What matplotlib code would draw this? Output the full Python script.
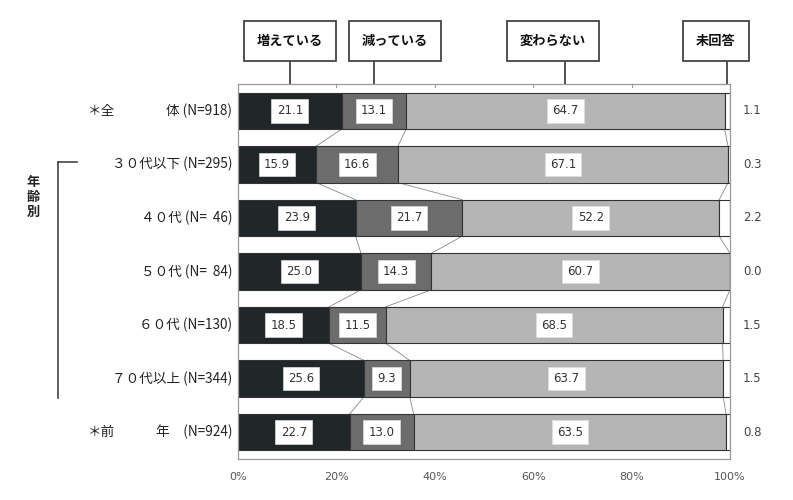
import matplotlib
matplotlib.use("Agg")
import matplotlib.pyplot as plt
from matplotlib.lines import Line2D
import numpy as np

plt.rcParams['font.family'] = ['Noto Sans CJK JP', 'DejaVu Sans']

left_parts = ["＊全", None, None, None, None, None, "＊前"]
right_parts = ["体 (N=918)", "３０代以下 (N=295)", "４０代 (N=  46)", "５０代 (N=  84)",
               "６０代 (N=130)", "７０代以上 (N=344)", "年　(N=924)"]
series_names = ["増えている", "減っている", "変わらない", "未回答"]
increasing = [21.1, 15.9, 23.9, 25.0, 18.5, 25.6, 22.7]
decreasing = [13.1, 16.6, 21.7, 14.3, 11.5, 9.3, 13.0]
unchanged = [64.7, 67.1, 52.2, 60.7, 68.5, 63.7, 63.5]
no_answer = [1.1, 0.3, 2.2, 0.0, 1.5, 1.5, 0.8]
xtick_labels = ["0%", "20%", "40%", "60%", "80%", "100%"]

colors = ["#212629", "#6c6c6c", "#b5b5b5", "#ffffff"]
legend_box_x = [290, 395, 553, 716]  # figure pixel centers of the legend boxes

W, H = 793, 500
fig = plt.figure(figsize=(W / 100, H / 100), dpi=100)
ax = fig.add_axes([238 / W, 1 - 459 / H, (730 - 238) / W, (459 - 84) / H])

data = np.array([increasing, decreasing, unchanged, no_answer])
n = data.shape[1]
y = np.arange(n)
bh = 0.68
lefts = np.zeros(n)
for i in range(4):
    ax.barh(y, data[i], left=lefts, height=bh, color=colors[i],
            edgecolor="#333333", linewidth=0.8, zorder=2)
    if i < 3:
        for j in range(n):
            ax.text(lefts[j] + data[i][j] / 2, y[j], f"{data[i][j]:.1f}",
                    ha="center", va="center", fontsize=8.5, color="#333333",
                    family=["DejaVu Sans"], zorder=4,
                    bbox=dict(boxstyle="square,pad=0.45", fc="white", ec="#dddddd", lw=0.5))
    lefts = lefts + data[i]

# values for no answer outside the axes
for j in range(n):
    ax.text(104.5, y[j], f"{no_answer[j]:.1f}", ha="center", va="center",
            fontsize=8.5, color="#444444", family=["DejaVu Sans"], clip_on=False)

# connector lines between bars
cum = np.cumsum(data, axis=0)
for k in range(3):
    for j in range(n - 1):
        ax.plot([cum[k][j], cum[k][j + 1]], [y[j] + bh / 2, y[j + 1] - bh / 2],
                color="#888888", linewidth=0.6, zorder=1)

ax.set_xlim(0, 100)
ax.set_ylim(n - 0.5, -0.5)
ax.set_yticks([])
ax.set_xticks(np.arange(0, 101, 20))
ax.set_xticklabels(xtick_labels, fontsize=8, color="#555555", family=["DejaVu Sans"])
ax.tick_params(axis="x", length=0, pad=9)
for s in ax.spines.values():
    s.set_color("#9a9a9a")
    s.set_linewidth(0.9)
for xv in range(20, 100, 20):
    ax.plot([xv, xv], [-0.5, -0.45], color="#9a9a9a", linewidth=0.8, clip_on=False)

# row labels
for j in range(n):
    ax.text(-1.2, y[j], right_parts[j], ha="right", va="center", fontsize=9.8,
            color="#222222", clip_on=False)
    if left_parts[j] is not None:
        fig.text(88 / W, 1 - (84 + 53.6 * (j + 0.5)) / H, left_parts[j],
                 ha="left", va="center", fontsize=9.8, color="#222222")

# legend boxes with leader lines
centers = [data[0][0] / 2, cum[0][0] + data[1][0] / 2,
           cum[1][0] + data[2][0] / 2, cum[2][0] + data[3][0] / 2]
box_top, box_bot = 22, 60
to_px = ax.transData
for name, xc, bx in zip(series_names, centers, legend_box_x):
    fig.text(bx / W, 1 - (box_top + box_bot) / 2 / H, name, ha="center", va="center",
             fontsize=9.5, weight="bold", color="#111111",
             bbox=dict(boxstyle="square,pad=1.0", fc="white", ec="#444444", lw=1.3))
    # vertical leader from box bottom to top of first bar
    xpix = to_px.transform((xc, 0))[0]
    ybar = to_px.transform((0, -bh / 2))[1]
    fig.add_artist(Line2D([xpix / W, xpix / W], [1 - box_bot / H, ybar / H],
                          transform=fig.transFigure, color="#333333", lw=1.2, zorder=0))

# age group bracket
fig.add_artist(Line2D([58 / W, 58 / W], [1 - 162 / H, 1 - 398 / H],
                      transform=fig.transFigure, color="#444444", lw=1.2))
fig.add_artist(Line2D([58 / W, 77 / W], [1 - 162 / H, 1 - 162 / H],
                      transform=fig.transFigure, color="#444444", lw=1.2))
fig.text(33 / W, 1 - 197 / H, "年\n齢\n別", ha="center", va="center",
         fontsize=9.5, weight="bold", color="#222222", linespacing=1.05)

fig.savefig("out.png", dpi=100)
